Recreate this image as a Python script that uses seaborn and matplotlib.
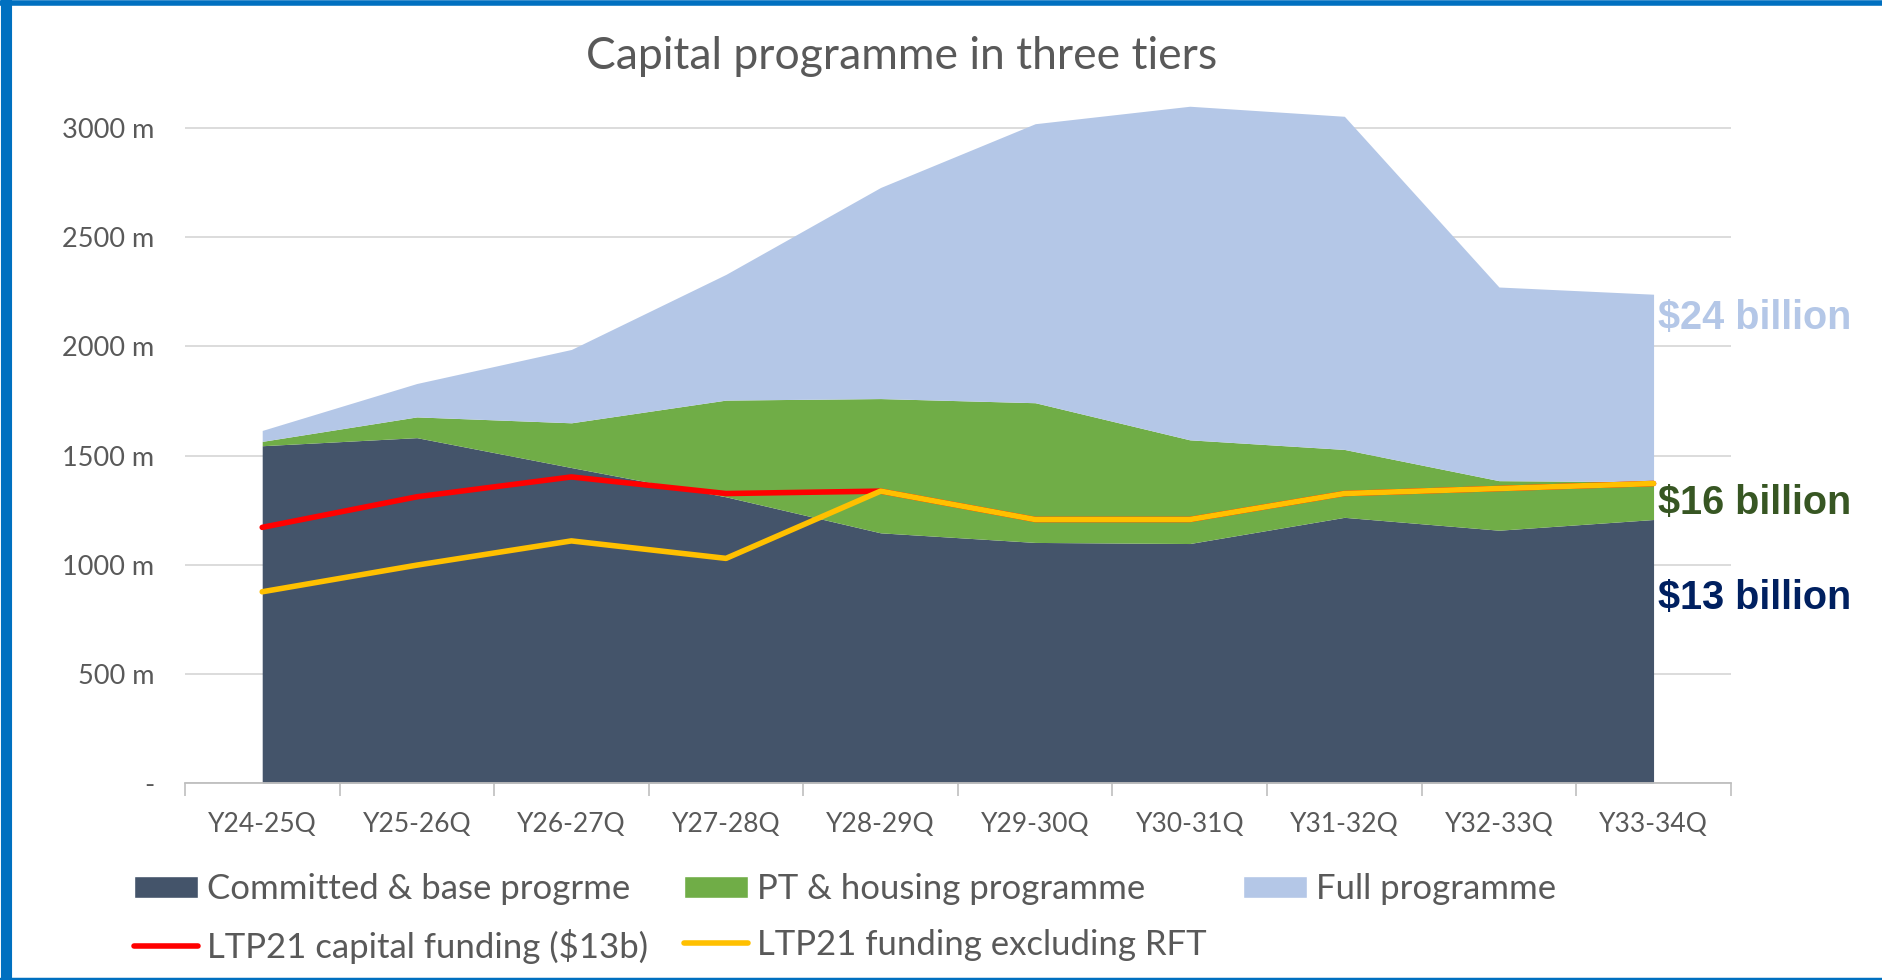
import numpy as np
import pandas as pd
import matplotlib
matplotlib.use('Agg')
import matplotlib.pyplot as plt
from matplotlib.patches import Patch
from matplotlib.lines import Line2D
import seaborn as sns

# ========== DATA (m$ per year) ==========
PERIODS = ['Y24-25Q', 'Y25-26Q', 'Y26-27Q', 'Y27-28Q', 'Y28-29Q',
           'Y29-30Q', 'Y30-31Q', 'Y31-32Q', 'Y32-33Q', 'Y33-34Q']
COMMITTED = [1545, 1582, 1445, 1311, 1146, 1102, 1097, 1217, 1158, 1207]
PT_HOUSING = [20, 95, 205, 443, 615, 640, 475, 311, 227, 173]
FULL_EXTRA = [50, 153, 336, 576, 967, 1278, 1528, 1526, 887, 859]
LTP21_CAPITAL = [1171, 1311, 1402, 1326, 1337, 1207, 1207, 1326, 1349, 1372]
LTP21_EXCL_RFT = [876, 998, 1109, 1029, 1337, 1207, 1207, 1326, 1349, 1372]

Y_TICKS = [0, 500, 1000, 1500, 2000, 2500, 3000]
Y_TICK_LABELS = ['-', '500 m', '1000 m', '1500 m', '2000 m', '2500 m', '3000 m']
SERIES_NAMES = ['Committed & base progrme', 'PT & housing programme', 'Full programme',
                'LTP21 capital funding ($13b)', 'LTP21 funding excluding RFT']
TOTAL_LABELS = ['$24 billion', '$16 billion', '$13 billion']

# ========== STYLE ==========
C_BASE = '#44546a'
C_PT = '#70ad47'
C_FULL = '#b4c7e7'
C_RED = '#ff0000'
C_ORANGE = '#ffc000'
C_TEXT = '#595959'
C_GRID = '#d9d9d9'
C_FRAME = '#0070c0'

sns.set_theme(style='white')
plt.rcParams['font.family'] = ['Lato', 'DejaVu Sans']

df = pd.DataFrame({'period': PERIODS, 'committed': COMMITTED, 'pt': PT_HOUSING,
                   'full': FULL_EXTRA, 'ltp': LTP21_CAPITAL, 'ltp_rft': LTP21_EXCL_RFT})
df['x'] = np.arange(len(df))

fig = plt.figure(figsize=(18.83, 9.80), dpi=100)
ax = fig.add_axes([0.0982, 0.201, 0.821, 0.724])

ax.stackplot(df['x'], df['committed'], df['pt'], df['full'],
             colors=[C_BASE, C_PT, C_FULL], linewidth=0, zorder=2)
sns.lineplot(data=df, x='x', y='ltp', color=C_RED, linewidth=4, ax=ax, zorder=3)
sns.lineplot(data=df, x='x', y='ltp_rft', color=C_ORANGE, linewidth=4, ax=ax, zorder=4)

ax.set_xlim(-0.5, len(df) - 0.5)
ax.set_ylim(0, 3250)
ax.set_xlabel('')
ax.set_ylabel('')

ax.set_yticks(Y_TICKS)
ax.set_yticklabels(Y_TICK_LABELS)
ax.yaxis.grid(True, color=C_GRID, linewidth=1.3)
ax.set_axisbelow(True)
ax.tick_params(axis='y', length=0, pad=22, labelsize=19.5, labelcolor=C_TEXT)

ax.set_xticks(df['x'])
ax.set_xticklabels(PERIODS)
ax.set_xticks(np.arange(-0.5, len(df)), minor=True)
ax.tick_params(axis='x', which='major', length=0, pad=21, labelsize=19, labelcolor=C_TEXT)
ax.tick_params(axis='x', which='minor', length=9, width=1.2, color='#bfbfbf', direction='out', bottom=True)

for side in ['left', 'right', 'top']:
    ax.spines[side].set_visible(False)
ax.spines['bottom'].set_color('#bfbfbf')
ax.spines['bottom'].set_linewidth(1.3)

fig.text(0.479, 0.942, 'Capital programme in three tiers', ha='center', va='center',
         fontsize=32, color=C_TEXT)

# totals on the right
for label, ypos, col in zip(TOTAL_LABELS, [2130, 1282, 847], [C_FULL, '#375623', '#002060']):
    ax.text(9.03, ypos, label, ha='left', va='center', fontsize=28.5, fontweight='bold',
            color=col, family='Liberation Sans', clip_on=False)

handles = [Patch(facecolor=C_BASE), Line2D([], [], color=C_RED, lw=4),
           Patch(facecolor=C_PT), Line2D([], [], color=C_ORANGE, lw=4),
           Patch(facecolor=C_FULL)]
labels = [SERIES_NAMES[0], SERIES_NAMES[3], SERIES_NAMES[1], SERIES_NAMES[4], SERIES_NAMES[2]]
fig.legend(handles, labels, loc='upper left', bbox_to_anchor=(0.071, 0.109), ncol=3,
           frameon=False, fontsize=25, labelcolor=C_TEXT, handlelength=1.85,
           handleheight=0.6, handletextpad=0.25, columnspacing=1.05, labelspacing=0.68,
           borderpad=0, borderaxespad=0)

# blue frame around the slide element
fig.add_artist(Line2D([0.003, 0.003], [0, 1], color=C_FRAME, lw=8, transform=fig.transFigure))
fig.add_artist(Line2D([0, 1], [0.997, 0.997], color=C_FRAME, lw=4, transform=fig.transFigure))
fig.add_artist(Line2D([0, 1], [0.0015, 0.0015], color=C_FRAME, lw=2.5, transform=fig.transFigure))

fig.savefig('out.png', dpi=100, facecolor='white')
